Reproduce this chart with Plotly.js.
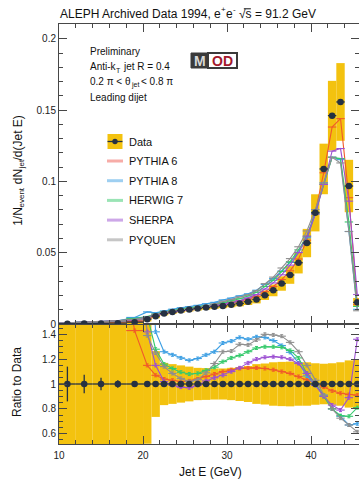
<!DOCTYPE html>
<html><head><meta charset="utf-8">
<script src="https://cdn.plot.ly/plotly-3.0.1.min.js"></script>
<style>html,body{margin:0;padding:0;overflow:hidden;background:#fff}</style>
</head><body><div id="chart" style="width:359px;height:479px"></div>
<script>
// ---- data ----
const jetE = [11,13,15,17,19,20.5,21.5,22.5,23.5,24.5,25.5,26.5,27.5,28.5,29.5,30.5,31.5,32.5,33.5,34.5,35.5,36.5,37.5,38.5,39.5,40.5,41.5,42.5,43.5,44.5,45.5];
const binWidth = [2,2,2,2,2,1,1,1,1,1,1,1,1,1,1,1,1,1,1,1,1,1,1,1,1,1,1,1,1,1,1];
const dataVal = [0.0002,0.0003,0.0004,0.0006,0.0013,0.0034,0.0055,0.0073,0.0084,0.0094,0.0102,0.0109,0.0115,0.0121,0.0127,0.0135,0.0144,0.0156,0.0172,0.0202,0.0236,0.0284,0.0344,0.0430,0.0568,0.0780,0.1088,0.1462,0.1558,0.0968,0.0152];
const dataRelErr = [1.0,1.0,1.0,1.0,1.2,0.48,0.265,0.17,0.16,0.15,0.14,0.13,0.128,0.125,0.125,0.13,0.137,0.145,0.16,0.165,0.175,0.178,0.18,0.175,0.175,0.167,0.163,0.167,0.175,0.19,0.2];
const dataRatioStat = [0.14,0.075,0.05,0.03,0.015,0,0,0,0,0,0,0,0,0,0,0,0,0,0,0,0,0,0,0,0,0,0,0,0,0,0];

const pythia6 = [0.0006,0.0009,0.0011,0.0013,0.0019,0.0039,0.0059,0.0076,0.0087,0.0096,0.0105,0.0113,0.0122,0.0131,0.0140,0.0151,0.0162,0.0176,0.0194,0.0227,0.0263,0.0312,0.0373,0.0456,0.0588,0.0784,0.1061,0.1382,0.1441,0.0886,0.0138];
const pythia8 = [0.0008,0.0012,0.0016,0.0022,0.0046,0.0085,0.0078,0.0092,0.0104,0.0114,0.0121,0.0131,0.0142,0.0152,0.0169,0.0182,0.0198,0.0212,0.0237,0.0278,0.0319,0.0372,0.0432,0.0503,0.0605,0.0772,0.0990,0.1170,0.1153,0.0649,0.0103];
const herwig7 = [0.0008,0.0012,0.0016,0.0022,0.0039,0.0053,0.0070,0.0085,0.0095,0.0103,0.0110,0.0118,0.0128,0.0137,0.0150,0.0163,0.0177,0.0197,0.0222,0.0263,0.0307,0.0368,0.0437,0.0520,0.0616,0.0784,0.0979,0.1170,0.1161,0.0716,0.0123];
const sherpa = [0.0008,0.0012,0.0016,0.0022,0.0029,0.0048,0.0063,0.0074,0.0083,0.0092,0.0099,0.0108,0.0118,0.0127,0.0136,0.0149,0.0163,0.0183,0.0206,0.0245,0.0288,0.0345,0.0413,0.0501,0.0616,0.0772,0.0979,0.1213,0.1231,0.0862,0.0207];
const pyquen = [0.0008,0.0012,0.0016,0.0022,0.0033,0.0047,0.0069,0.0083,0.0091,0.0098,0.0104,0.0113,0.0125,0.0141,0.0160,0.0171,0.0190,0.0205,0.0233,0.0283,0.0329,0.0393,0.0459,0.0542,0.0653,0.0803,0.0990,0.1170,0.1130,0.0649,0.0093];

const ratioPythia6 = [3.0,3.0,2.8,2.2,1.43,1.15,1.07,1.04,1.03,1.02,1.025,1.04,1.06,1.08,1.10,1.115,1.125,1.13,1.13,1.125,1.115,1.10,1.085,1.06,1.035,1.005,0.975,0.945,0.925,0.915,0.91];
const ratioPythia8 = [5,5,5,5,3.5,2.5,1.42,1.26,1.235,1.21,1.19,1.205,1.235,1.26,1.33,1.345,1.375,1.36,1.38,1.375,1.35,1.31,1.255,1.17,1.065,0.99,0.91,0.80,0.74,0.67,0.68];
const ratioHerwig7 = [5,5,5,5,3,1.55,1.28,1.16,1.125,1.095,1.08,1.085,1.11,1.135,1.18,1.21,1.23,1.26,1.29,1.3,1.3,1.295,1.27,1.21,1.085,1.005,0.9,0.8,0.745,0.74,0.81];
const ratioSherpa = [5,5,5,5,2.2,1.42,1.15,1.02,0.99,0.975,0.97,0.99,1.025,1.05,1.07,1.10,1.13,1.17,1.2,1.215,1.22,1.215,1.2,1.165,1.085,0.99,0.9,0.83,0.79,0.89,1.36];
const ratioPyquen = [5,5,5,5,2.5,1.39,1.25,1.14,1.085,1.045,1.02,1.035,1.09,1.165,1.26,1.265,1.32,1.315,1.355,1.4,1.395,1.385,1.335,1.26,1.15,1.03,0.91,0.8,0.725,0.67,0.615];

const mcNames = ['PYTHIA 6','PYTHIA 8','HERWIG 7','SHERPA','PYQUEN'];
const mcTop = [pythia6, pythia8, herwig7, sherpa, pyquen];
const mcRatio = [ratioPythia6, ratioPythia8, ratioHerwig7, ratioSherpa, ratioPyquen];

// ---- styles ----
const FONT = 'Liberation Sans, Arial, Helvetica, sans-serif';
const YELLOW = '#f3c20f';
const DARK = '#263142';
const INK = '#111';
const mcColors = ['#f05a2a','#3d9fe3','#35c96b','#9c4fd2','#8e8e8e'];
const mcLegendColors = ['rgba(240,90,80,0.5)','rgba(61,159,227,0.5)','rgba(53,201,107,0.5)','rgba(156,79,210,0.5)','rgba(142,142,142,0.5)'];
const halfW = binWidth.map(w => w/2);

const traces = [];
traces.push({type:'bar', x:jetE, base:dataVal.map((v,i)=>v*(1-dataRelErr[i])), y:dataVal.map((v,i)=>2*v*dataRelErr[i]),
  width:binWidth, marker:{color:YELLOW, line:{width:0}}, xaxis:'x2', yaxis:'y', hoverinfo:'skip', showlegend:false});
traces.push({type:'bar', x:jetE, base:dataRelErr.map(e=>1-e), y:dataRelErr.map(e=>2*e),
  width:binWidth, marker:{color:YELLOW, line:{width:0}}, xaxis:'x', yaxis:'y2', hoverinfo:'skip', showlegend:false});
mcNames.forEach((n,k)=>{
  traces.push({type:'scatter', mode:'lines', name:n, x:jetE, y:mcTop[k], xaxis:'x2', yaxis:'y',
    line:{color:mcColors[k], width:1.1}, error_x:{type:'data', array:halfW, width:0, thickness:1.1, color:mcColors[k]},
    showlegend:false, hoverinfo:'skip'});
  traces.push({type:'scatter', mode:'lines', name:n, x:jetE, y:mcRatio[k], xaxis:'x', yaxis:'y2',
    line:{color:mcColors[k], width:1.1}, error_x:{type:'data', array:halfW, width:0, thickness:1.1, color:mcColors[k]},
    error_y:{type:'constant', value:0.012, width:1.5, thickness:1, color:mcColors[k]},
    showlegend:false, hoverinfo:'skip'});
});
traces.push({type:'scatter', mode:'markers', name:'Data', x:jetE, y:dataVal, xaxis:'x2', yaxis:'y',
  marker:{color:DARK, size:6.5}, error_x:{type:'data', array:halfW, width:0, thickness:1.3, color:DARK}, showlegend:false});
traces.push({type:'scatter', mode:'markers', name:'Data', x:jetE, y:dataVal.map(()=>1), xaxis:'x', yaxis:'y2',
  marker:{color:DARK, size:6.5}, error_x:{type:'data', array:halfW, width:0, thickness:1.3, color:DARK},
  error_y:{type:'data', array:dataRatioStat, width:0, thickness:1.3, color:DARK}, showlegend:false});

// ---- layout helpers (pixel -> paper) ----
const L=59, R=359, T=24, B=444;
const PX = x => (x-L)/(R-L);
const PY = y => (B-y)/(B-T);

// rich text built from plain pieces (sub/superscripts as separate smaller texts)
const ctx = document.createElement('canvas').getContext('2d');
function textW(t, size){ ctx.font = size + 'px "Liberation Sans", Arial, sans-serif'; return ctx.measureText(t).width; }
const esc = t => t.replace(/</g,'&lt;');
function segSize(s, size){ return s.s ? Math.round(size*0.7) : size; }
function richH(segs, x0, yc, size, color){
  let x = x0; const out=[]; const pos=[];
  segs.forEach(s=>{
    const sz = segSize(s,size);
    const lead = s.t.match(/^ */)[0]; x += textW(lead, sz);
    const txt = s.t.slice(lead.length);
    const dy = s.s==='sub' ? size*0.32 : s.s==='sup' ? -size*0.38 : 0;
    out.push({text:esc(txt), x:PX(x), y:PY(yc+dy), xanchor:'left', yanchor:'middle', borderpad:0, font:{family:FONT,size:sz,color:color}});
    pos.push(x);
    x += textW(txt, sz);
  });
  return {anns:out, pos:pos};
}
function richV(segs, xc, ycenter, size, color){
  let total = 0; segs.forEach(s=>{ total += textW(s.t, segSize(s,size)); });
  let y = ycenter + total/2; const out=[];
  segs.forEach(s=>{
    const sz = segSize(s,size);
    const lead = s.t.match(/^ */)[0]; y -= textW(lead, sz);
    const txt = s.t.slice(lead.length);
    const dx = s.s==='sub' ? size*0.32 : s.s==='sup' ? -size*0.38 : 0;
    out.push({text:esc(txt), x:PX(xc+dx), y:PY(y), textangle:-90, xanchor:'center', yanchor:'bottom', borderpad:0, font:{family:FONT,size:sz,color:color}});
    y -= textW(txt, sz);
  });
  return out;
}

const axBase = {showline:true, linecolor:'#474747', linewidth:1, mirror:'ticks', ticks:'inside', tickcolor:'#474747',
  ticklen:8, tickwidth:1, showgrid:false, zeroline:false, tickfont:{family:FONT, size:10, color:'#222'}};
const minorX = {ticks:'inside', dtick:2, ticklen:4, tickcolor:'#474747', tickwidth:1, showgrid:false};

let annotations = [];
const shapes = [];
// title with sqrt(s) overline
const titleSegs = [{t:'ALEPH Archived Data 1994, e'},{t:'+',s:'sup'},{t:'e'},{t:'-',s:'sup'},{t:' √s = 91.2 GeV'}];
const tr = richH(titleSegs, 59, 14, 12, INK);
annotations = annotations.concat(tr.anns);
const sx0 = tr.pos[4] + textW('√',12), sx1 = tr.pos[4] + textW('√s',12);
shapes.push({type:'line', xref:'paper', yref:'paper', x0:PX(sx0-0.5), x1:PX(sx1+0.5), y0:PY(14-5.2), y1:PY(14-5.2), line:{color:INK, width:1}});

annotations = annotations.concat(
  richH([{t:'Preliminary'}], 89, 52, 10, INK).anns,
  richH([{t:'Anti-k'},{t:'T',s:'sub'},{t:' jet R = 0.4'}], 89, 67, 10, INK).anns,
  richH([{t:'0.2 π < θ'},{t:'jet',s:'sub'},{t:' < 0.8 π'}], 89, 82, 10, INK).anns,
  richH([{t:'Leading dijet'}], 89, 97, 10, INK).anns,
  richV([{t:'1/N'},{t:'event',s:'sub'},{t:' dN'},{t:'jet',s:'sub'},{t:'/d(Jet E)'}], 18, 172, 12, INK),
  richV([{t:'Ratio to Data'}], 17, 383, 12, INK),
  [{text:'Jet E (GeV)', x:PX(210), y:PY(472), xanchor:'center', yanchor:'middle', font:{family:FONT,size:12,color:INK}},
   {text:'<b>M</b>', x:PX(199.5), y:PY(60.5), xanchor:'center', yanchor:'middle', font:{family:FONT,size:14,color:'#d8d8d8'}},
   {text:'<b>OD</b>', x:PX(222.5), y:PY(60.5), xanchor:'center', yanchor:'middle', font:{family:FONT,size:14,color:'#a3192c'}},
   {text:'Data', x:PX(127), y:PY(141.5), xanchor:'left', yanchor:'middle', font:{family:FONT,size:11,color:INK}}]
);
shapes.push(
  {type:'rect', xref:'paper', yref:'paper', x0:PX(107.5), x1:PX(122.5), y0:PY(149), y1:PY(134), fillcolor:YELLOW, line:{width:0}},
  {type:'line', xref:'paper', yref:'paper', x0:PX(107.5), x1:PX(122.5), y0:PY(141.5), y1:PY(141.5), line:{color:DARK, width:1.3}},
  {type:'circle', xref:'paper', yref:'paper', x0:PX(112.3), x1:PX(117.7), y0:PY(144.2), y1:PY(138.8), fillcolor:DARK, line:{width:0}},
  {type:'rect', xref:'paper', yref:'paper', x0:PX(208), x1:PX(237), y0:PY(68), y1:PY(53), fillcolor:'#ffffff', line:{color:'#3a3a3a', width:2}},
  {type:'rect', xref:'paper', yref:'paper', x0:PX(191), x1:PX(208), y0:PY(68), y1:PY(53), fillcolor:'#3a3a3a', line:{color:'#3a3a3a', width:1}}
);
mcNames.forEach((n,k)=>{
  const yc = 161 + k*19.7;
  shapes.push({type:'line', xref:'paper', yref:'paper', x0:PX(107), x1:PX(123), y0:PY(yc), y1:PY(yc), line:{color:mcLegendColors[k], width:3}});
  annotations.push({text:n, x:PX(127), y:PY(yc), xanchor:'left', yanchor:'middle', font:{family:FONT,size:11,color:INK}});
});
annotations.forEach(a=>{a.xref='paper'; a.yref='paper'; a.showarrow=false;});

const layout = {
  width:359, height:479, margin:{l:L, r:0, t:T, b:479-B}, paper_bgcolor:'#fff', plot_bgcolor:'#fff',
  barmode:'overlay', showlegend:false, font:{family:FONT, size:10},
  xaxis:Object.assign({}, axBase, {domain:[0,1], anchor:'y2', range:[10,45.7], tick0:0, dtick:10, minor:minorX, ticklabelstandoff:2}),
  xaxis2:Object.assign({}, axBase, {domain:[0,1], anchor:'y', matches:'x', range:[10,45.7], tick0:0, dtick:10, minor:minorX, showticklabels:false}),
  yaxis:Object.assign({}, axBase, {domain:[120/420,1], anchor:'x2', range:[0,0.2105], tick0:0, dtick:0.05,
    minor:{ticks:'inside', dtick:0.01, ticklen:4, tickcolor:'#474747', showgrid:false}}),
  yaxis2:Object.assign({}, axBase, {domain:[0,120/420], anchor:'x', range:[0.517,1.483], tick0:0, dtick:0.2,
    minor:{ticks:'inside', dtick:0.05, ticklen:4, tickcolor:'#474747', showgrid:false}}),
  annotations:annotations, shapes:shapes
};
Plotly.newPlot('chart', traces, layout, {staticPlot:true, displayModeBar:false});
</script></body></html>
